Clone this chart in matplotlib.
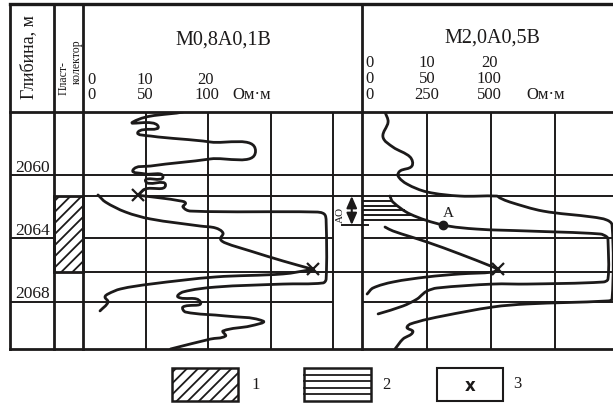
import numpy as np
import matplotlib.pyplot as plt
from matplotlib.patches import Rectangle, PathPatch
from matplotlib.path import Path

plt.rcParams['font.family'] = ['Liberation Serif', 'DejaVu Serif']
plt.rcParams['hatch.linewidth'] = 1.3
INK = '#1c1a1a'
plt.rcParams['hatch.color'] = INK

W, H = 613, 406

# depth range of the log, m
depth_top, depth_bot = 2056.0, 2071.0
depth_marks = [2060, 2064, 2068]
layer_top, layer_bot = 2061.32, 2066.13   # reservoir bed

# track 1 (M0,8A0,1B), Ohm*m on the 0-50-100 scale
p_res = [80, 40, 60, 44, 54, 102, 138, 102, 54, 40, 50, 64, 50, 66, 50, 44, 62, 78, 82, 80,
         86, 186, 193, 194.5, 194.5, 192, 160, 106, 80, 76, 94, 80, 82, 114, 144, 134, 112, 114, 102, 70]
p_dep = [2056.0, 2056.63, 2056.89, 2057.27, 2057.52, 2057.90, 2058.47, 2058.97, 2059.42, 2059.67,
         2059.92, 2060.11, 2060.37, 2060.62, 2060.87, 2061.27, 2061.44, 2061.63, 2061.76, 2062.01,
         2062.27, 2062.33, 2062.46, 2062.9, 2066.57, 2066.82, 2066.89, 2067.08, 2067.39, 2067.71,
         2068.03, 2068.34, 2068.66, 2068.91, 2069.23, 2069.54, 2069.86, 2070.18, 2070.37, 2071.0]
q_res = [12, 18, 34, 54, 94, 106, 112, 110, 114, 134, 160, 184, 160, 106, 54, 30, 20, 17.6, 20, 13.6]
q_dep = [2061.25, 2061.70, 2062.33, 2062.77, 2063.22, 2063.34, 2063.66, 2064.04, 2064.29, 2064.80,
         2065.43, 2065.96, 2066.25, 2066.44, 2066.89, 2067.20, 2067.52, 2067.71, 2068.03, 2068.59]
t1_mark_res = [44, 184]
t1_mark_dep = [2061.25, 2065.96]

# track 2 (M2,0A0,5B), Ohm*m on the 0-250-500 scale
c_res = [86, 98, 78, 117, 184, 191, 145, 137, 172, 250, 379, 523, 535, 574, 703, 898, 953, 973,
         973, 953, 641, 508, 312, 211, 172, 195, 156, 125]
c_dep = [2056.0, 2056.63, 2057.58, 2058.22, 2058.85, 2059.42, 2059.73, 2060.05, 2060.56, 2061.06,
         2061.32, 2061.32, 2061.44, 2061.70, 2062.27, 2062.65, 2062.84, 2063.15, 2067.84, 2067.96,
         2068.15, 2068.34, 2068.91, 2069.29, 2069.61, 2069.92, 2070.37, 2071.0]
d_res = [105, 117, 184, 312, 445, 641, 926, 953, 957, 957, 938, 641, 508, 289, 250, 234, 211, 156, 59]
d_dep = [2061.32, 2061.70, 2062.46, 2063.15, 2063.41, 2063.53, 2063.72, 2063.91, 2064.10, 2066.57,
         2066.76, 2066.89, 2066.89, 2067.14, 2067.33, 2067.52, 2067.84, 2068.28, 2068.78]
e_res = [86, 117, 250, 379, 508, 527, 508, 379, 250, 117, 39, 16]
e_dep = [2063.28, 2063.53, 2064.23, 2064.99, 2065.81, 2065.96, 2066.13, 2066.25, 2066.44, 2066.76,
         2067.14, 2067.52]
t2_mark_res = [527]
t2_mark_dep = [2065.96]
a_res, a_dep = 312, 2063.15
hatch_dep = [2061.62, 2061.92, 2062.22, 2062.52, 2062.82]

fig = plt.figure(figsize=(W / 100, H / 100), dpi=100)


def box(x0, y0, x1, y1):
    ax = fig.add_axes([x0 / W, 1 - y1 / H, (x1 - x0) / W, (y1 - y0) / H])
    ax.set_ylim(depth_bot, depth_top)
    ax.set_axis_off()
    return ax


def smooth_line(ax, xs, ys, sx, sy, sharp=()):
    # smooth bezier through the read points; sx, sy = pixels per data unit
    pts = np.column_stack([np.asarray(xs, float) * sx, np.asarray(ys, float) * sy])
    n = len(pts)
    tan = np.zeros_like(pts)
    for i in range(n):
        if i == 0 or i in sharp:
            d = pts[min(i + 1, n - 1)] - pts[i]
        elif i == n - 1:
            d = pts[i] - pts[i - 1]
        else:
            d = pts[i + 1] - pts[i - 1]
        nrm = np.hypot(*d)
        tan[i] = d / nrm if nrm else 0
    verts, codes = [pts[0]], [Path.MOVETO]
    for i in range(n - 1):
        L = np.hypot(*(pts[i + 1] - pts[i])) / 3
        t_out = tan[i]
        t_in = tan[i + 1]
        if (i + 1) in sharp:
            d = pts[i + 1] - pts[i]
            t_in = d / np.hypot(*d)
        verts += [pts[i] + t_out * L, pts[i + 1] - t_in * L, pts[i + 1]]
        codes += [Path.CURVE4] * 3
    verts = np.array(verts) / [sx, sy]
    ax.add_patch(PathPatch(Path(verts, codes), fill=False, edgecolor=INK, lw=2.0,
                           joinstyle='round', capstyle='round'))


grid = dict(color=INK, lw=1.4)
SY = 237 / (depth_bot - depth_top)

# depth column
axd = box(10, 113, 54, 350)
axd.set_xlim(0, 1)
axd.hlines(depth_marks, 0, 1, **grid)
for d in depth_marks:
    axd.text(0.52, d - 0.55, str(d), ha='center', va='center', fontsize=12.5, color=INK)

# reservoir column
axr = box(54, 113, 83, 350)
axr.set_xlim(0, 1)
axr.hlines([2060, 2068], 0, 1, **grid)
axr.add_patch(Rectangle((0, layer_top), 1, layer_bot - layer_top, hatch='///', fill=False,
                        edgecolor=INK, lw=2, clip_on=False))

# track 1
ax1 = box(83, 113, 362, 350)
ax1.set_xlim(0, 223.2)
SX1 = 279 / 223.2
for v in [50, 100, 150, 200]:
    ax1.axvline(v, **grid)
ax1.hlines([2060, layer_top, layer_bot], 0, 223.2, **grid)
ax1.hlines([2064, 2068], 0, 200, **grid)
smooth_line(ax1, p_res, p_dep, SX1, SY, sharp=(15,))
smooth_line(ax1, q_res, q_dep, SX1, SY, sharp=(11,))
ax1.plot(t1_mark_res, t1_mark_dep, 'x', color=INK, ms=9, mew=1.6)
ax1.annotate('', xy=(215, layer_top), xytext=(215, a_dep),
             arrowprops=dict(arrowstyle='<|-|>,head_length=0.5,head_width=0.22', color=INK,
                             lw=1.5, mutation_scale=14, shrinkA=0, shrinkB=0))
ax1.plot([207, 228], [a_dep, a_dep], color=INK, lw=1.4, clip_on=False)
ax1.text(206, 2062.45, 'AO', rotation=90, ha='center', va='center', fontsize=8, color=INK)

# track 2
ax2 = box(363, 113, 613, 350)
ax2.set_xlim(0, 976.6)
SX2 = 250 / 976.6
for v in [250, 500, 750]:
    ax2.axvline(v, **grid)
ax2.hlines([2060, layer_top, 2064, layer_bot, 2068], 0, 976.6, **grid)
ax2.hlines(hatch_dep, 0, np.interp(hatch_dep, d_dep[:4], d_res[:4]), **grid)
smooth_line(ax2, c_res, c_dep, SX2, SY)
smooth_line(ax2, d_res, d_dep, SX2, SY)
smooth_line(ax2, e_res, e_dep, SX2, SY, sharp=(5,))
ax2.plot(t2_mark_res, t2_mark_dep, 'x', color=INK, ms=9, mew=1.6)
ax2.plot(a_res, a_dep, 'o', color=INK, ms=6)
ax2.text(a_res + 20, a_dep - 0.82, 'A', ha='center', va='center', fontsize=11, color=INK)

# frame, header and legend
ov = fig.add_axes([0, 0, 1, 1])
ov.set_xlim(0, W)
ov.set_ylim(H, 0)
ov.set_axis_off()
frame = dict(color=INK, lw=2.0, solid_capstyle='projecting')
ov.plot([10, W], [5, 5], color=INK, lw=2.4)
ov.plot([10, W], [113, 113], **frame)
ov.plot([10, W], [350, 350], **frame)
for x in [10, 54, 83, 362]:
    ov.plot([x, x], [5, 350], **frame)

ov.text(29, 57, 'Глибина, м', rotation=90, ha='center', va='center', fontsize=13, color=INK)
ov.text(64, 78, 'Пласт-', rotation=90, ha='center', va='center', fontsize=8.5, color=INK)
ov.text(77, 62, 'колектор', rotation=90, ha='center', va='center', fontsize=8.5, color=INK)

hdr = dict(ha='center', va='center', color=INK, fontsize=12)
ov.text(223, 40, 'M0,8A0,1B', **{**hdr, 'fontsize': 14.5})
for x, s in zip([92, 145, 205], ['0', '10', '20']):
    ov.text(x, 80, s, **hdr)
for x, s in zip([92, 145, 207, 252], ['0', '50', '100', 'Ом·м']):
    ov.text(x, 95, s, **hdr)

ov.text(492, 38, 'M2,0A0,5B', **{**hdr, 'fontsize': 14.5})
for x, s in zip([369, 427, 489], ['0', '10', '20']):
    ov.text(x, 63, s, **hdr)
for x, s in zip([369, 427, 489], ['0', '50', '100']):
    ov.text(x, 79, s, **hdr)
for x, s in zip([369, 427, 489, 546], ['0', '250', '500', 'Ом·м']):
    ov.text(x, 95, s, **hdr)

ov.add_patch(Rectangle((172, 369), 66, 33, hatch='///', fill=False, edgecolor=INK, lw=1.8))
ov.text(256, 385, '1', **hdr)
ov.add_patch(Rectangle((304, 369), 67, 33, fill=False, edgecolor=INK, lw=1.8))
for k in range(1, 5):
    ov.plot([304, 371], [369 + k * 33 / 5] * 2, color=INK, lw=1.3)
ov.text(386, 385, '2', **hdr)
ov.add_patch(Rectangle((437, 369), 66, 33, fill=False, edgecolor=INK, lw=1.5))
ov.text(470, 386, 'x', ha='center', va='center', fontsize=12, fontweight='bold',
        family='DejaVu Sans', color=INK)
ov.text(517, 384, '3', **hdr)

fig.savefig('out.png', dpi=100)
